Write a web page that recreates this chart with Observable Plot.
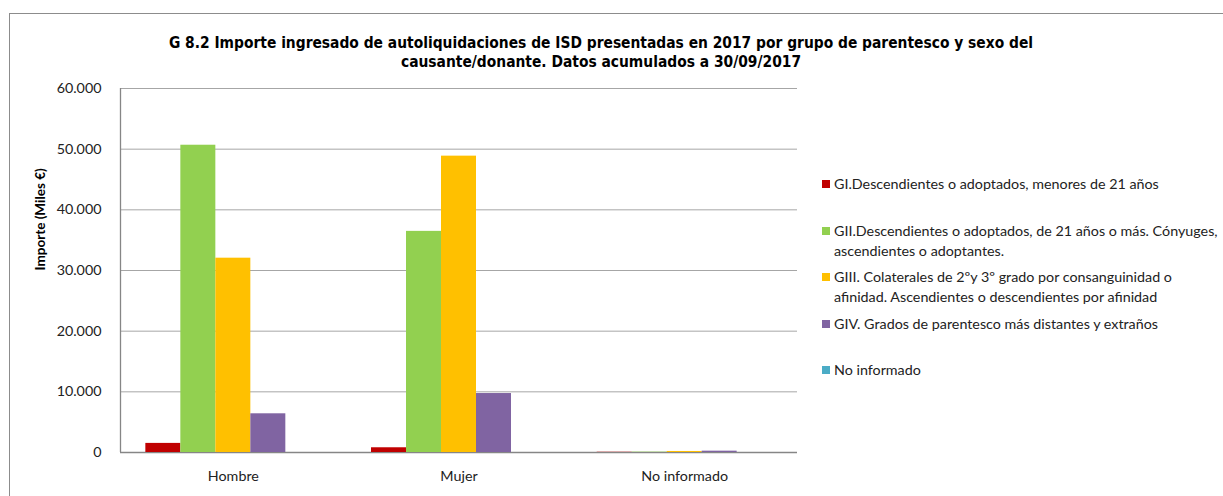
<!DOCTYPE html>
<html><head><meta charset="utf-8">
<script src="https://cdn.jsdelivr.net/npm/d3@7"></script>
<script src="https://cdn.jsdelivr.net/npm/@observablehq/plot@0.6"></script>
<style>
html,body{margin:0;padding:0;overflow:hidden;background:#fff;}
#wrap{position:relative;width:1223px;height:496px;overflow:hidden;}
#border{position:absolute;left:9px;top:13px;width:1400px;height:700px;border:1px solid #8c8c8c;box-sizing:border-box;}
#title{position:relative;height:80px;box-sizing:border-box;padding-top:34px;width:1202px;text-align:center;font-family:"DejaVu Sans Condensed","DejaVu Sans",sans-serif;font-stretch:condensed;font-weight:bold;font-size:15.4px;line-height:19px;color:#000;}
#chart{position:relative;width:1223px;height:416px;}
#chart svg{position:absolute;left:0;top:0;}
#legend{position:absolute;left:822px;top:0;font-family:Lato,"Open Sans",sans-serif;font-size:14.3px;color:#222;}
.item{position:absolute;left:0;white-space:pre;line-height:20px;}
.sw{position:absolute;left:0;top:6px;width:8px;height:8px;}
.lab{position:absolute;left:12px;top:0;}
</style></head>
<body>
<div id="wrap">
<div id="border"></div>
<div id="title">G 8.2 Importe ingresado de autoliquidaciones de ISD presentadas en 2017 por grupo de parentesco y sexo del<br>causante/donante. Datos acumulados a 30/09/2017</div>
<div id="chart"></div>
<div id="legend"></div>
</div>
<script>
const categories = ["Hombre", "Mujer", "No informado"];
const seriesNames = [
  "GI.Descendientes o adoptados, menores de 21 años",
  "GII.Descendientes o adoptados, de 21 años o más. Cónyuges,\nascendientes o adoptantes.",
  "GIII. Colaterales de 2ºy 3º grado por consanguinidad o\nafinidad. Ascendientes o descendientes por afinidad",
  "GIV. Grados de parentesco más distantes y extraños",
  "No informado"
];
const seriesKeys = ["GI", "GII", "GIII", "GIV", "NI"];
const colors = ["#C00000", "#92D050", "#FFC000", "#8064A2", "#4BACC6"];
const valuesGI   = [1500, 780, 40];
const valuesGII  = [50650, 36450, 60];
const valuesGIII = [32030, 48850, 170];
const valuesGIV  = [6380, 9720, 220];
const valuesNI   = [0, 0, 0];
const yTicks = [0, 10000, 20000, 30000, 40000, 50000, 60000];
const yLabel = "Importe (Miles €)";

const allValues = [valuesGI, valuesGII, valuesGIII, valuesGIV, valuesNI];
const rows = [];
categories.forEach((c, i) => {
  seriesKeys.forEach((s, j) => rows.push({cat: c, serie: s, value: allValues[j][i]}));
});

const fmt = d => d3.format(",")(d).replace(/,/g, ".");

const W = 1223, H = 416, ML = 120, MR = 426, MT = 8, MB = 44;
const pIn = 0.2246, pOut = 0.1123;
const font = {fontFamily: "Lato, 'Open Sans', sans-serif", fontSize: "14.3px", color: "#222", background: "transparent"};

// underlying frame: gridlines, axis lines, y axis
const base = Plot.plot({
  width: W, height: H, marginLeft: ML, marginRight: MR, marginTop: MT, marginBottom: MB,
  style: font,
  x: {domain: [0, 1], axis: null},
  y: {domain: [0, 60000], label: null},
  marks: [
    Plot.ruleY(yTicks.slice(1), {stroke: "#a6a6a6", strokeWidth: 1}),
    Plot.ruleY([0], {stroke: "#868686", strokeWidth: 1.3}),
    Plot.ruleX([0], {y1: 0, y2: 60000, stroke: "#868686", strokeWidth: 1.3}),
    Plot.axisY({ticks: yTicks, tickFormat: fmt, tickSize: 0, tickPadding: 19, label: null, fill: "#222"}),
    Plot.text([yLabel], {frameAnchor: "left", dx: -(ML - 40), rotate: -90, text: d => d, fontWeight: "bold", fontSize: 13.5, fill: "#000"})
  ]
});

// bars, grouped by category
const bars = Plot.plot({
  width: W, height: H, marginLeft: ML, marginRight: MR, marginTop: MT, marginBottom: MB,
  style: font,
  fx: {domain: categories, paddingInner: pIn, paddingOuter: pOut, round: false, label: null, tickSize: 0, tickPadding: 18},
  x: {domain: seriesKeys, padding: 0, round: false, axis: null},
  y: {domain: [0, 60000], axis: null},
  color: {domain: seriesKeys, range: colors},
  marks: [
    Plot.barY(rows, {fx: "cat", x: "serie", y: "value", fill: "serie", inset: 0})
  ]
});

const chart = document.getElementById("chart");
chart.appendChild(base);
chart.appendChild(bars);

const legend = document.getElementById("legend");
seriesNames.forEach((name, i) => {
  const item = document.createElement("div");
  item.className = "item";
  item.style.top = (174 + 46.5 * i) + "px";
  const sw = document.createElement("div");
  sw.className = "sw";
  sw.style.background = colors[i];
  const lab = document.createElement("div");
  lab.className = "lab";
  lab.textContent = name;
  item.appendChild(sw);
  item.appendChild(lab);
  legend.appendChild(item);
});
</script>
</body></html>
